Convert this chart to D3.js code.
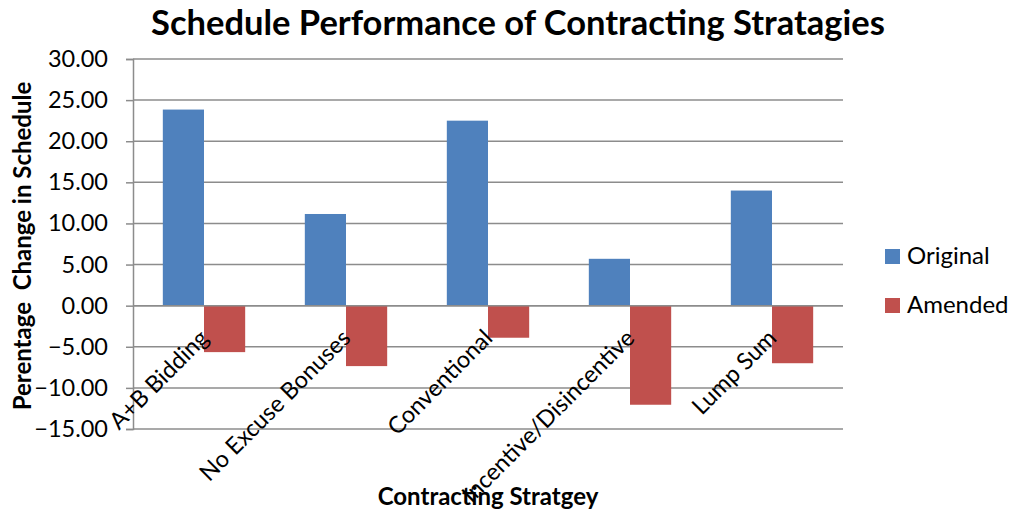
<!DOCTYPE html>
<html>
<head>
<meta charset="utf-8">
<script src="https://cdn.jsdelivr.net/npm/d3@7"></script>
<style>
  html, body { margin: 0; padding: 0; background: #fff; }
  svg { display: block; font-family: Lato, "Open Sans", sans-serif; }
</style>
</head>
<body>
<svg id="chart" width="1016" height="512"></svg>
<script>
// Contracting strategies and the schedule change (%) for each
const categories = ["A+B Bidding", "No Excuse Bonuses", "Conventional", "Incentive/Disincentive", "Lump Sum"];
const seriesNames = ["Original", "Amended"];
const originalValues = [23.85, 11.15, 22.5, 5.7, 14.0];
const amendedValues = [-5.65, -7.35, -3.9, -12.05, -7.0];
const yTicks = [30, 25, 20, 15, 10, 5, 0, -5, -10, -15];
const seriesColors = ["#4F81BD", "#C0504D"];

const svg = d3.select("#chart");
const margin = { left: 133, right: 173, top: 59, bottom: 83 };
const W = 1016, H = 512;
const plotW = W - margin.left - margin.right;
const plotH = H - margin.top - margin.bottom;

const x = d3.scaleBand().domain(categories).range([0, plotW]).paddingInner(0.42).paddingOuter(0.21);
const xs = d3.scaleBand().domain(seriesNames).range([0, x.bandwidth()]);
const y = d3.scaleLinear().domain([-15, 30]).range([plotH, 0]);

const g = svg.append("g").attr("transform", `translate(${margin.left},${margin.top})`);

// Horizontal gridlines
g.append("g")
  .selectAll("line")
  .data(yTicks)
  .join("line")
  .attr("x1", 0).attr("x2", plotW)
  .attr("y1", d => y(d)).attr("y2", d => y(d))
  .attr("stroke", "#8c8c8c").attr("stroke-width", 1.5);

// Value axis
const yAxis = d3.axisLeft(y).tickValues(yTicks).tickFormat(d3.format(".2f")).tickSize(7).tickPadding(18);
const ya = g.append("g").call(yAxis);
ya.select(".domain").attr("stroke", "#8c8c8c").attr("stroke-width", 1.5);
ya.selectAll(".tick line").attr("stroke", "#8c8c8c").attr("stroke-width", 1.5);
ya.selectAll(".tick text")
  .attr("font-size", 23.5).attr("fill", "#000")
  .attr("font-family", "Lato, 'Open Sans', sans-serif");

// Bars
const rows = categories.map((c, i) => ({ c, vals: [originalValues[i], amendedValues[i]] }));
const groups = g.append("g").selectAll("g")
  .data(rows)
  .join("g")
  .attr("transform", d => `translate(${x(d.c)},0)`);

groups.selectAll("rect")
  .data(d => d.vals.map((v, k) => ({ v, s: seriesNames[k], k })))
  .join("rect")
  .attr("x", d => xs(d.s))
  .attr("width", xs.bandwidth())
  .attr("y", d => y(Math.max(0, d.v)))
  .attr("height", d => Math.abs(y(d.v) - y(0)))
  .attr("fill", d => seriesColors[d.k]);

// Zero line drawn above the bars
g.append("line")
  .attr("x1", 0).attr("x2", plotW)
  .attr("y1", y(0)).attr("y2", y(0))
  .attr("stroke", "#8c8c8c").attr("stroke-width", 1.5);

// Category labels, rotated, hanging from the zero line
g.append("g")
  .selectAll("text")
  .data(categories)
  .join("text")
  .attr("transform", d => `translate(${x(d) + x.bandwidth() / 2 + 6},${y(0) + 34}) rotate(-45)`)
  .attr("text-anchor", "end")
  .attr("font-size", 23.5)
  .attr("fill", "#000")
  .text(d => d);

// Title
svg.append("text")
  .attr("x", 518).attr("y", 35)
  .attr("text-anchor", "middle")
  .attr("font-size", 34.5).attr("font-weight", "bold")
  .text("Schedule Performance of Contracting Stratagies");

// Axis titles
svg.append("text")
  .attr("transform", `translate(31,${margin.top + plotH / 2 + 2}) rotate(-90)`)
  .attr("text-anchor", "middle")
  .attr("font-size", 24).attr("font-weight", "bold")
  .style("white-space", "pre")
  .text("Perentage  Change in Schedule");

svg.append("text")
  .attr("x", 488).attr("y", 505)
  .attr("text-anchor", "middle")
  .attr("font-size", 24).attr("font-weight", "bold")
  .text("Contracting Stratgey");

// Legend
const legend = svg.append("g").attr("transform", "translate(885,0)");
const items = legend.selectAll("g")
  .data(seriesNames)
  .join("g")
  .attr("transform", (d, i) => `translate(0,${256 + i * 49})`);
items.append("rect")
  .attr("x", 0).attr("y", -7).attr("width", 15).attr("height", 15)
  .attr("fill", (d, i) => seriesColors[i]);
items.append("text")
  .attr("x", 22).attr("y", 8)
  .attr("font-size", 24)
  .text(d => d);
</script>
</body>
</html>
